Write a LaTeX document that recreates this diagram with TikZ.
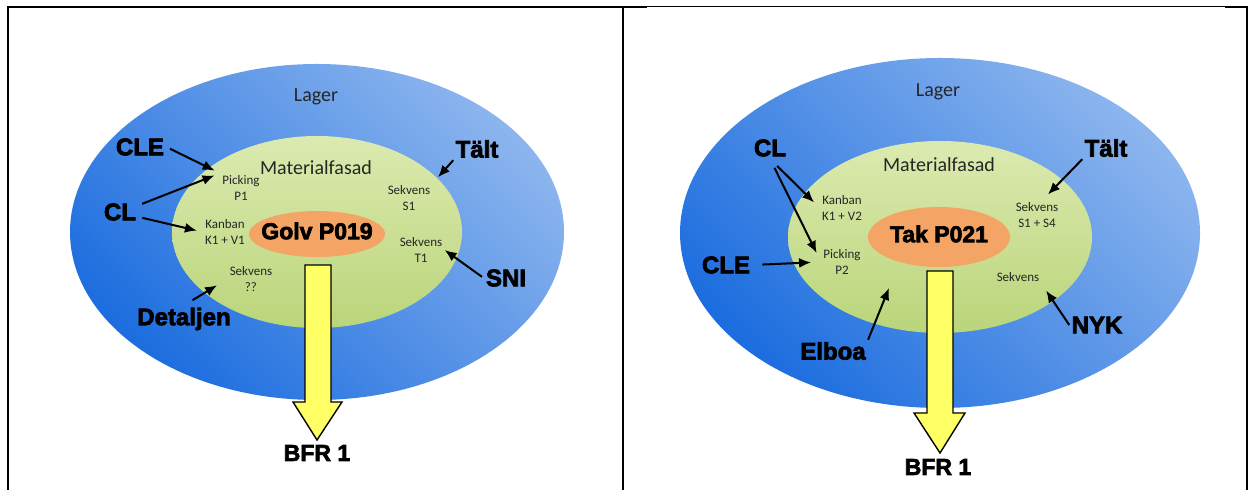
\documentclass[tikz,border=0pt]{standalone}
\usepackage{fontspec}
\setmainfont{Carlito}
\newfontfamily\heavyfont{Liberation Sans}[BoldFeatures={FakeBold=3}]
\usetikzlibrary{arrows.meta,positioning}
\definecolor{lagerdark}{HTML}{1C6DDF}
\definecolor{lagerlight}{HTML}{8CB5EE}
\definecolor{fasadlight}{HTML}{DCEAB0}
\definecolor{fasaddark}{HTML}{BAD57A}
\definecolor{prodfill}{HTML}{F4A565}
\definecolor{flowfill}{HTML}{FFFF66}

\tikzset{
  lagerzone/.style={bottom color=lagerdark, top color=lagerlight, shading angle=-45},
  fasadzone/.style={bottom color=fasaddark, top color=fasadlight, shading angle=0},
  prodzone/.style={fill=prodfill},
  zonetext/.style={font=\fontsize{10}{12}\selectfont, text=black!85},
  small/.style={font=\fontsize{6.5}{7.8}\selectfont, align=center, inner sep=1pt, text=black!85},
  lev/.style={font=\heavyfont\bfseries\fontsize{12}{14}\selectfont, inner sep=1pt},
  prod/.style={font=\heavyfont\bfseries\fontsize{11.5}{14}\selectfont, inner sep=1pt},
  feed/.style={-{Latex[length=6pt,width=5pt]}, line width=1pt},
  flow/.style={draw, fill=flowfill, line width=0.7pt, line join=miter},
  frame/.style={line width=0.75pt}
}

\begin{document}
\begin{tikzpicture}[x=0.5pt,y=-0.5pt]
    \useasboundingbox (0,0) rectangle (1256,490);

    % table frame
    \draw[frame] (8,490) -- (8,7) -- (647,7);
    \draw[line width=0.4pt] (647,6) -- (1225,6);
    \draw[frame] (1225,7) -- (1247,7) -- (1247,490);
    \draw[frame] (623,7) -- (623,490);

    % left: Golv
    \shade[lagerzone] (317,232) ellipse [x radius=247, y radius=168];
    \shade[fasadzone] (317,232) ellipse [x radius=145, y radius=96];
    \fill[prodzone] (317,234) ellipse [x radius=68, y radius=23];
    \draw[flow] (305,265) -- (331,265) -- (331,402) -- (342,402) -- (317,440)
      -- (293,402) -- (305,402) -- cycle;

    \path
    (316,97) node[zonetext] (lager1) {Lager}
    (316,168) node[zonetext] (fasad1) {Materialfasad}
    (317,231) node[prod] (golv) {Golv P019}
    (241,188) node[small] (pick1) {Picking\\P1}
    (225,232) node[small] (kanban1) {Kanban\\K1 + V1}
    (251,279) node[small] (sekv1) {Sekvens\\??}
    (409,198) node[small] (sekvS1) {Sekvens\\S1}
    (421,250) node[small] (sekvT1) {Sekvens\\T1}
    (140,147) node[lev] (cle1) {CLE}
    (120,212) node[lev] (cl1) {CL}
    (477,149) node[lev] (talt1) {Tält}
    (506,278) node[lev] (sni) {SNI}
    (184,319) node[lev] (detaljen) {Detaljen}
    (317,453) node[prod] (bfr1) {BFR 1}
    ;

    \draw[feed, shorten <=2pt, shorten >=3pt] (cle1.east) -- (pick1.north west);
    \draw[feed, shorten <=2pt, shorten >=3pt] (cl1.20) -- (pick1.north west);
    \draw[feed, shorten <=2pt, shorten >=3pt] (cl1.-15) -- (kanban1.west);
    \draw[feed, shorten <=5pt, shorten >=6pt] (detaljen.north) -- (sekv1.west);
    \draw[feed, shorten >=4pt] (talt1.south west) -- (sekvS1.north east);
    \draw[feed, shorten <=1pt] (sni.west) -- (sekvT1.east);

    % right: Tak
    \shade[lagerzone] (940,233) ellipse [x radius=260, y radius=175];
    \shade[fasadzone] (940,237) ellipse [x radius=152, y radius=96];
    \fill[prodzone] (939,237) ellipse [x radius=71, y radius=30];
    \draw[flow] (927,271) -- (953,271) -- (953,413) -- (965,413) -- (940,453)
      -- (914,413) -- (927,413) -- cycle;

    \path
    (938,92) node[zonetext] (lager2) {Lager}
    (939,165) node[zonetext] (fasad2) {Materialfasad}
    (939,234) node[prod] (tak) {Tak P021}
    (842,208) node[small] (kanban2) {Kanban\\K1 + V2}
    (842,262) node[small] (pick2) {Picking\\P2}
    (1037,215) node[small] (sekvS14) {Sekvens\\S1 + S4}
    (1018,277) node[small] (sekv2) {Sekvens}
    (770,148) node[lev] (cl2) {CL}
    (726,265) node[lev] (cle2) {CLE}
    (1106,148) node[lev] (talt2) {Tält}
    (1097,325) node[lev] (nyk) {NYK}
    (833,351) node[lev] (elboa) {Elboa}
    (938,467) node[prod] (bfr2) {BFR 1}
    ;
    \coordinate (elboatip) at (889,288);

    \draw[feed, shorten <=5pt, shorten >=4pt] (cl2.south) -- (kanban2.west);
    \draw[feed, shorten <=5pt, shorten >=5pt] (cl2.south) -- (pick2.west);
    \draw[feed, shorten <=5pt, shorten >=5pt] (cle2.east) -- (pick2.west);
    \draw[feed, shorten >=4pt] (talt2.south west) -- (sekvS14.70);
    \draw[feed, shorten >=4pt] (nyk.west) -- (sekv2.south east);
    \draw[feed] (elboa.north east) -- (elboatip);
\end{tikzpicture}
\end{document}
